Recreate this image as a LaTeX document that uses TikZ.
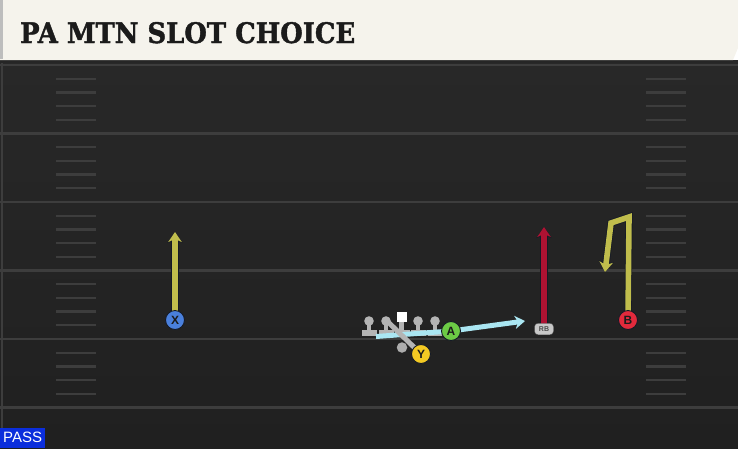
\documentclass[tikz,border=0pt]{standalone}
\usepackage{fontspec}
\setmainfont{Liberation Sans}
\newfontfamily\titlefont{DejaVu Serif}[BoldFeatures={FakeBold=1.5}]
\usetikzlibrary{arrows.meta}
\definecolor{hdr}{HTML}{F5F3EC}
\definecolor{hdredge}{HTML}{BDBDBD}
\definecolor{fieldtop}{HTML}{282828}
\definecolor{fieldbot}{HTML}{202020}
\definecolor{yardline}{HTML}{3D3D3D}
\definecolor{hashc}{HTML}{3D3D3D}
\definecolor{yroute}{HTML}{C0BD4C}
\definecolor{rroute}{HTML}{AE1232}
\definecolor{broute}{HTML}{AAE6F2}
\definecolor{outl}{HTML}{151A26}
\definecolor{lgray}{HTML}{B4B4B4}
\definecolor{pxblue}{HTML}{4A80DC}
\definecolor{pagreen}{HTML}{6CCB45}
\definecolor{pyellow}{HTML}{F3C923}
\definecolor{pbred}{HTML}{E22A3C}
\definecolor{passblue}{HTML}{0B2EDC}
\definecolor{titlec}{HTML}{1B1B1B}
\tikzset{
  route/.style={line width=5.6pt, draw=#1,
    -{Stealth[length=10pt,width=13.5pt,inset=3pt,fill=#1]},
    preaction={draw=outl, line width=7.2pt, -{Stealth[length=11pt,width=15pt,inset=3pt,fill=outl]}}},
  player/.style={circle, minimum size=19pt, inner sep=0pt, fill=#1, draw=outl, line width=0.9pt,
    font=\bfseries\fontsize{12}{12}\selectfont, text=titlec},
  yard/.style={draw=yardline, line width=2.5pt},
  hashm/.style={draw=hashc, line width=2.3pt},
  lineman/.style={fill=lgray},
}
\begin{document}
\begin{tikzpicture}[x=1pt,y=-1pt]
\useasboundingbox (0,0) rectangle (738,448);
% field
\shade[top color=fieldtop, bottom color=fieldbot] (0,60) rectangle (738,448);
\draw[draw=yardline, line width=1.8pt] (2,60) -- (2,448);
\foreach \y in {65,133.5,202,270.5,339,407.5} \draw[yard] (0,\y) -- (738,\y);
\foreach \y in {65,133.5,202,270.5,339} {
  \foreach \k in {1,2,3,4} {
    \draw[hashm] (56,\y+\k*13.7) -- (96,\y+\k*13.7);
    \draw[hashm] (646,\y+\k*13.7) -- (686,\y+\k*13.7);
  }
}
% header
\fill[black!85] (0,58) rectangle (733,63);
\fill[hdr] (0,0) -- (738,0) -- (738,48) -- (733,60) -- (0,60) -- cycle;
\fill[hdredge] (0,0) rectangle (3,59);
\node[anchor=base west, inner sep=0pt, text=titlec] (title) at (20,43)
  {\resizebox{335pt}{21pt}{\titlefont\bfseries PA MTN SLOT CHOICE}};
% player positions
\coordinate (pX) at (175,320);
\coordinate (pA) at (451,331);
\coordinate (pY) at (421,354);
\coordinate (pB) at (628,320);
\coordinate (pRB) at (544,329);
% offensive line
\foreach \x in {369,386,418,435} {
  \fill[lineman] (\x,321) circle (4.8);
  \fill[lineman] (\x-2.4,321) rectangle (\x+2.4,332);
  \fill[lineman] (\x-7.5,330) rectangle (\x+7.5,335.5);
}
\fill[white] (396.5,312) rectangle (407,322);
\fill[lineman] (399.3,322) rectangle (404.2,332);
\fill[lineman] (394.5,330) rectangle (409.5,335.5);
% routes
\coordinate (xEnd) at (175,232);
\draw[route=yroute] (pX) -- (xEnd);
\coordinate (rbStart) at (544,326);
\coordinate (rbEnd) at (544,227);
\draw[route=rroute] (rbStart) -- (rbEnd);
\coordinate (b1) at (629,217);
\coordinate (b2) at (611,223);
\coordinate (bEnd) at (605,272);
\draw[route=yroute, line join=miter] (pB) -- (b1) -- (b2) -- (bEnd);
\coordinate (aStart) at (376,336.5);
\coordinate (aEnd) at (525,321);
\draw[line width=5pt, draw=broute, -{Stealth[length=10pt,width=13pt,inset=3pt]}] (aStart) -- (pA) -- (aEnd);
\coordinate (yStart) at (385,319);
\draw[line width=5pt, draw=lgray] (yStart) -- (pY);
\node[circle, fill=gray!65, minimum size=10.5pt, inner sep=0pt] (qb) at (402,347.5) {};
% players
\node[player=pxblue] (X) at (pX) {X};
\node[player=pagreen] (A) at (pA) {A};
\node[player=pyellow] (Y) at (pY) {Y};
\node[player=pbred] (B) at (pB) {B};
\node[draw=black!70, fill=black!22, rounded corners=3.5pt, minimum width=19pt, minimum height=11.5pt,
  inner sep=0pt, font=\bfseries\fontsize{7}{7}\selectfont, text=black!70] (RB) at (pRB) {RB};
% label
\node[fill=passblue, text=white, anchor=south west, minimum width=45pt, minimum height=20pt,
  inner sep=0pt, font=\fontsize{15}{15}\selectfont] (pass) at (0,448) {PASS};
\end{tikzpicture}
\end{document}
